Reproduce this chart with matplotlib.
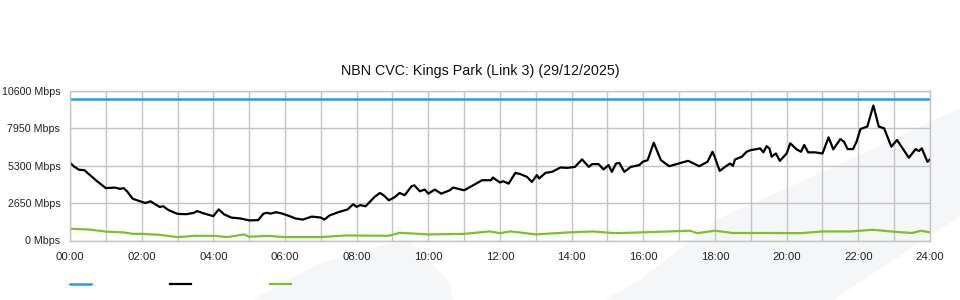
import numpy as np
import matplotlib
matplotlib.use('Agg')
import matplotlib.pyplot as plt
from matplotlib.patches import Polygon

plt.rcParams['font.family'] = ['Liberation Sans', 'DejaVu Sans']

# ---- data (hours since midnight, Mbps) ----
capacity_mbps = 10000

dl_hours = [0.0, 0.1, 0.25, 0.4, 0.5, 0.75, 0.9, 1.0, 1.25, 1.4, 1.5, 1.6, 1.75, 2.0, 2.1,
            2.25, 2.5, 2.6, 2.75, 3.0, 3.25, 3.45, 3.55, 3.75, 4.0, 4.15, 4.3, 4.5, 4.75,
            5.0, 5.25, 5.4, 5.5, 5.6, 5.75, 5.9, 6.1, 6.3, 6.5, 6.75, 7.0, 7.1, 7.25, 7.5,
            7.75, 7.9, 8.0, 8.1, 8.25, 8.5, 8.65, 8.75, 8.9, 9.07, 9.2, 9.34, 9.53, 9.61,
            9.76, 9.9, 10.0, 10.18, 10.36, 10.6, 10.69, 11.0, 11.25, 11.5, 11.75, 11.8,
            12.0, 12.09, 12.24, 12.43, 12.57, 12.75, 12.89, 13.03, 13.09, 13.27, 13.45,
            13.69, 13.87, 14.09, 14.29, 14.48, 14.57, 14.75, 14.89, 15.03, 15.12, 15.24,
            15.33, 15.47, 15.65, 15.89, 15.98, 16.12, 16.29, 16.49, 16.72, 16.99, 17.25,
            17.56, 17.79, 17.93, 17.99, 18.13, 18.28, 18.42, 18.5, 18.56, 18.75, 18.88,
            19.0, 19.15, 19.26, 19.35, 19.44, 19.52, 19.58, 19.7, 19.81, 20.0, 20.1,
            20.28, 20.4, 20.49, 20.6, 20.79, 21.0, 21.17, 21.3, 21.5, 21.6, 21.7, 21.85,
            21.95, 22.06, 22.25, 22.42, 22.57, 22.72, 22.92, 23.08, 23.41, 23.6, 23.69,
            23.77, 23.93, 24.0]
dl_mbps = [5500, 5250, 5000, 4970, 4750, 4200, 3900, 3700, 3740, 3650, 3700, 3450, 2950, 2740, 2650,
           2770, 2370, 2420, 2150, 1880, 1860, 1950, 2080, 1900, 1720, 2200, 1850, 1620, 1560,
           1420, 1440, 1900, 1960, 1900, 2000, 1920, 1750, 1550, 1480, 1690, 1620, 1480, 1780, 2010,
           2200, 2560, 2380, 2500, 2420, 3080, 3360, 3200, 2840, 3080, 3360, 3200, 3830, 3900,
           3480, 3600, 3310, 3600, 3310, 3550, 3740, 3550, 3900, 4260, 4260, 4450,
           4100, 4190, 4020, 4780, 4690, 4500, 4140, 4620, 4380, 4780, 4850,
           5160, 5130, 5200, 5730, 5200, 5400, 5400, 5020, 5330, 4850, 5440,
           5480, 4850, 5200, 5330, 5560, 5680, 6910, 5680, 5250, 5440, 5630,
           5250, 5560, 6270, 5920, 4920, 5200, 5440, 5280, 5730, 5920, 6270,
           6390, 6450, 6510, 6230, 6670, 6500, 5920, 6150, 5630, 6150, 6870,
           6440, 6270, 6750, 6230, 6230, 6150, 7290, 6440, 7170, 6980, 6460, 6460,
           6980, 7880, 8050, 9540, 8050, 7930, 6630, 7100, 5850, 6460, 6320,
           6510, 5560, 5730]

ul_hours = [0.0, 0.5, 0.75, 1.0, 1.5, 1.75, 2.0, 2.5, 3.0, 3.5, 4.0, 4.4, 4.85, 5.0, 5.5,
            6.0, 7.0, 7.7, 8.9, 9.2, 10.0, 11.0, 11.7, 12.0, 12.3, 13.0, 13.9, 14.6,
            15.2, 15.9, 17.3, 17.5, 18.0, 18.5, 19.5, 20.4, 21.0, 21.8, 22.4, 22.9,
            23.5, 23.75, 24.0]
ul_mbps = [830, 780, 710, 630, 570, 470, 470, 400, 240, 330, 330, 240, 430, 260, 330,
           240, 240, 355, 335, 545, 430, 470, 640, 520, 640, 430, 570, 640,
           520, 570, 690, 520, 690, 530, 530, 520, 640, 640, 760, 640,
           530, 690, 580]

y_ticks = [0, 2650, 5300, 7950, 10600]
x_ticks = list(range(0, 25, 2))
x_labels = ['%02d:00' % h for h in x_ticks]
title = 'NBN CVC: Kings Park (Link 3) (29/12/2025)'

fig = plt.figure(figsize=(9.6, 3.0), dpi=100)

# faint watermark shapes behind the chart (figure pixel coords, y from top)
W, H = 960.0, 300.0
shapes = [
    [(253, 300), (320, 263), (407, 238), (450, 283), (453, 300)],
    [(605, 300), (640, 280), (720, 218), (832, 168), (960, 108), (960, 216), (833, 300)],
]
for pts in shapes:
    fig.patches.append(Polygon([(x / W, 1 - y / H) for x, y in pts], closed=True,
                               transform=fig.transFigure, facecolor='#f5f6f8',
                               edgecolor='none', zorder=-1))

ax = fig.add_axes([70 / W, 1 - 240.5 / H, 860 / W, 150 / H])
ax.patch.set_alpha(0)

grid_c = '#c4c4c4'
ax.set_xticks(np.arange(0, 25, 1), minor=True)
ax.grid(True, which='both', axis='x', color=grid_c, lw=1)
ax.grid(True, which='major', axis='y', color=grid_c, lw=1)
ax.set_axisbelow(True)

l_cap, = ax.plot([0, 24], [capacity_mbps, capacity_mbps], color='#1ba1e6', lw=1.8)
l_dl, = ax.plot(dl_hours, dl_mbps, color='black', lw=1.6)
l_ul, = ax.plot(ul_hours, ul_mbps, color='#7cc12c', lw=1.6)

ax.set_xlim(0, 24)
ax.set_ylim(0, 10600)
ax.set_xticks(x_ticks)
ax.set_xticklabels(x_labels)
ax.set_yticks(y_ticks)
ax.set_yticklabels(['%d Mbps' % v for v in y_ticks])
ax.tick_params(which='both', length=0, labelsize=7.7, labelcolor='#222222')
ax.tick_params(axis='x', pad=8.5, labelsize=8.2)
ax.tick_params(axis='y', pad=7)
for s in ax.spines.values():
    s.set_color(grid_c)
    s.set_linewidth(1)

fig.text(0.5, 1 - 71 / H, title, fontsize=10.3, color='#111111', ha='center', va='center')

fig.legend([l_cap, l_dl, l_ul], ['', '', ''], loc='center left',
           bbox_to_anchor=(70 / W, 1 - 285 / H), ncol=3, frameon=False,
           fontsize=7.5, handlelength=2.0, handletextpad=0, columnspacing=7.6,
           borderpad=0, borderaxespad=0)

fig.savefig('out.png', dpi=100)
